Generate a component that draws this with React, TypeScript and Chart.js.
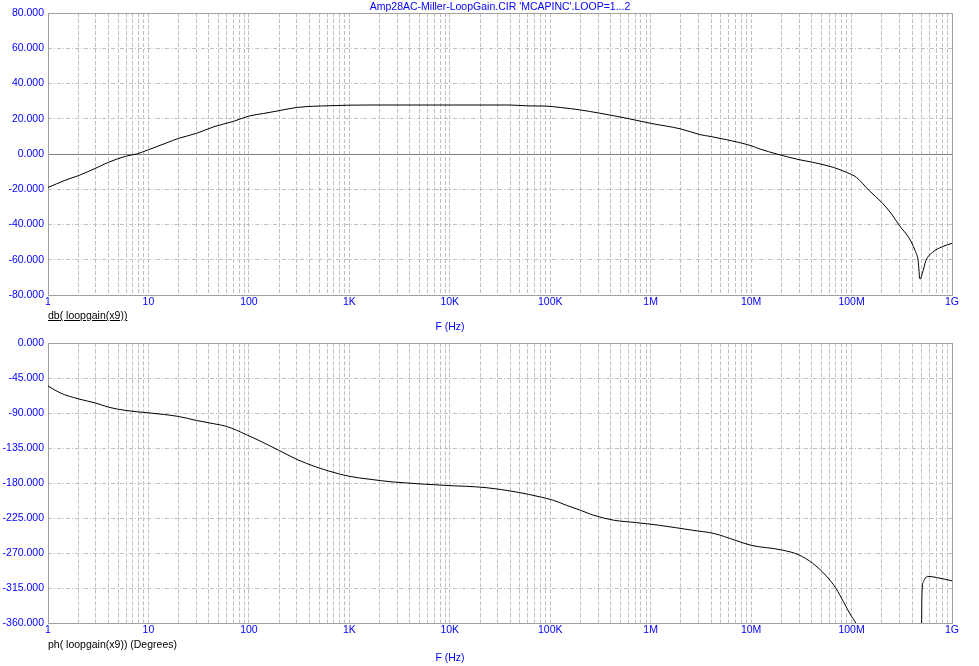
import React, { useEffect, useRef } from 'react';
import { Chart, registerables } from 'chart.js';

Chart.register(...registerables);

const FONT = "'Liberation Sans', Arial, sans-serif";
Chart.defaults.font.family = FONT;

const titleText = "Amp28AC-Miller-LoopGain.CIR 'MCAPINC'.LOOP=1...2";
const magLabel = 'db( loopgain(x9))';
const phLabel = 'ph( loopgain(x9)) (Degrees)';
const xAxisTitle = 'F (Hz)';

const decadeValues = [1, 10, 100, 1e3, 1e4, 1e5, 1e6, 1e7, 1e8, 1e9];
const decadeLabels = ['1', '10', '100', '1K', '10K', '100K', '1M', '10M', '100M', '1G'];
const minorSteps = [1, 2, 3, 4, 5, 6, 7, 8, 9];

const magFreq = [
  1, 1.5, 2, 3, 4, 6, 7.6, 10, 15, 20, 30, 45, 70, 100, 140, 200, 300, 640, 1600,
  1e4, 4e4, 6e4, 8.9e4, 1.26e5, 2e5, 3e5, 4.3e5, 6.2e5, 1e6, 2e6, 3.1e6, 4e6, 5.7e6,
  1e7, 1.23e7, 1.8e7, 3e7, 4.1e7, 6.6e7, 8.9e7, 1.12e8, 1.5e8, 2e8, 2.5e8, 3e8,
  3.7e8, 4.3e8, 4.6e8, 4.8e8, 5.05e8, 5.5e8, 6.4e8, 8e8, 1e9,
];
const magDb = [
  -19.0, -14.8, -12.3, -8.0, -4.7, -1.2, 0, 2.4, 6.2, 8.9, 11.7, 15.5, 18.5, 21.5, 23.0, 24.6, 26.4, 27.4, 27.8,
  27.8, 27.8, 27.3, 27.2, 26.4, 25.0, 23.3, 21.7, 19.9, 17.4, 14.2, 11.0, 9.9, 8.1,
  4.7, 2.8, 0, -3.2, -4.7, -7.6, -10.4, -13.3, -20.8, -27.5, -34.0, -40.7,
  -47.3, -54.9, -60.5, -71.0, -68.0, -60.5, -55.8, -52.6, -50.7,
];

const phFreq = [
  1, 1.32, 2, 3, 4, 6, 10, 20, 30, 45, 60, 95, 130, 200, 300, 470, 640, 1000, 1600,
  2750, 8800, 2.3e4, 4.6e4, 8e4, 1.07e5, 1.45e5, 2e5, 2.7e5, 4.3e5, 7.2e5, 1.2e6,
  2.6e6, 4.3e6, 6.9e6, 1e7, 2e7, 3e7, 4.1e7, 5.5e7, 7e7, 8.3e7, 9.8e7, 1.1e8, 1.25e8,
  3e8, 4.95e8, 5.02e8, 5.2e8, 5.7e8, 7e8, 1e9,
];
const phDeg: (number | null)[] = [
  -55, -63.8, -71.5, -77, -82.2, -86.5, -89.5, -94.2, -99.3, -103.6, -107, -117.7, -125.9, -137.9, -149.4, -159.3, -164.8, -171.2, -175,
  -178.5, -182.8, -185.8, -191.4, -197.8, -202, -208.5, -214.9, -221.3, -227.7, -230.8, -234.1,
  -240.6, -244.9, -253.4, -260, -265.9, -272.4, -283.2, -298.3, -315.5, -332.6, -349.7, -360, -378,
  null, -420, -323.6, -306.5, -300, -301.4, -305.7,
];

const xTickValues = decadeValues
  .slice(0, -1)
  .flatMap((d) => minorSteps.map((m) => m * d))
  .concat([decadeValues[decadeValues.length - 1]]);

const framePlugin = {
  id: 'frame',
  beforeDatasetsDraw(chart: any) {
    const { ctx, chartArea: a } = chart;
    ctx.save();
    ctx.strokeStyle = '#a0a0a0';
    ctx.lineWidth = 1;
    ctx.setLineDash([]);
    ctx.strokeRect(Math.round(a.left) + 0.5, Math.round(a.top) + 0.5, Math.round(a.right - a.left), Math.round(a.bottom - a.top));
    ctx.restore();
  },
};

function makeConfig(freq: number[], vals: (number | null)[], ymin: number, ymax: number, step: number, topPad: number, xHeight: number): any {
  return {
    type: 'line',
    data: {
      datasets: [
        {
          data: freq.map((f, i) => ({ x: f, y: vals[i] })),
          borderColor: '#000000',
          borderWidth: 1,
          pointRadius: 0,
          cubicInterpolationMode: 'monotone',
          spanGaps: false,
        },
      ],
    },
    options: {
      responsive: false,
      animation: false,
      devicePixelRatio: 1,
      layout: { padding: { top: topPad, right: 27, left: 0, bottom: 0 } },
      plugins: { legend: { display: false }, tooltip: { enabled: false }, title: { display: false } },
      scales: {
        x: {
          type: 'logarithmic',
          min: 1,
          max: 1e9,
          afterBuildTicks: (s: any) => {
            s.ticks = xTickValues.map((v) => ({ value: v }));
          },
          afterFit: (s: any) => {
            s.height = xHeight;
          },
          ticks: {
            autoSkip: false,
            maxRotation: 0,
            color: '#0000ff',
            font: { size: 10.5, family: FONT },
            padding: 1,
            callback: (v: any) => {
              const i = decadeValues.indexOf(Number(v));
              return i >= 0 ? decadeLabels[i] : '';
            },
          },
          grid: { color: '#c0c0c0', drawTicks: false, lineWidth: 1 },
          border: { display: false, dash: [4, 2] },
        },
        y: {
          min: ymin,
          max: ymax,
          afterFit: (s: any) => {
            s.width = 48;
          },
          ticks: {
            stepSize: step,
            color: '#0000ff',
            font: { size: 10.5, family: FONT },
            padding: 4,
            callback: (v: any) => Number(v).toFixed(3),
          },
          grid: {
            color: (c: any) => (c.tick && c.tick.value === 0 ? '#808080' : '#c0c0c0'),
            drawTicks: false,
            lineWidth: 1,
          },
          border: {
            display: false,
            dash: (c: any) => (c.tick && c.tick.value === 0 ? [] : [4, 2, 1, 2]),
          },
        },
      },
    },
    plugins: [framePlugin],
  };
}

const textBase: React.CSSProperties = {
  position: 'absolute',
  fontFamily: FONT,
  fontSize: '10.5px',
  lineHeight: '13px',
  whiteSpace: 'nowrap',
};

export default function App() {
  const topRef = useRef<HTMLCanvasElement>(null);
  const botRef = useRef<HTMLCanvasElement>(null);

  useEffect(() => {
    const c1 = new Chart(topRef.current as HTMLCanvasElement, makeConfig(magFreq, magDb, -80, 80, 20, 13, 38));
    const c2 = new Chart(botRef.current as HTMLCanvasElement, makeConfig(phFreq, phDeg, -360, 0, 45, 8, 43));
    return () => {
      c1.destroy();
      c2.destroy();
    };
  }, []);

  return (
    <div style={{ position: 'fixed', left: 0, top: 0, width: 979, height: 666, background: '#ffffff', overflow: 'hidden' }}>
      <canvas ref={topRef} width={979} height={333} style={{ position: 'absolute', left: 0, top: 0, width: 979, height: 333 }} />
      <canvas ref={botRef} width={979} height={333} style={{ position: 'absolute', left: 0, top: 333, width: 979, height: 333 }} />
      <div style={{ ...textBase, left: 48, width: 904, top: 0, textAlign: 'center', color: '#0000ff' }}>{titleText}</div>
      <div style={{ ...textBase, left: 48, top: 309, color: '#000000', textDecoration: 'underline' }}>{magLabel}</div>
      <div style={{ ...textBase, left: 400, width: 100, top: 320, textAlign: 'center', color: '#0000ff' }}>{xAxisTitle}</div>
      <div style={{ ...textBase, left: 48, top: 638, color: '#000000' }}>{phLabel}</div>
      <div style={{ ...textBase, left: 400, width: 100, top: 651, textAlign: 'center', color: '#0000ff' }}>{xAxisTitle}</div>
    </div>
  );
}
